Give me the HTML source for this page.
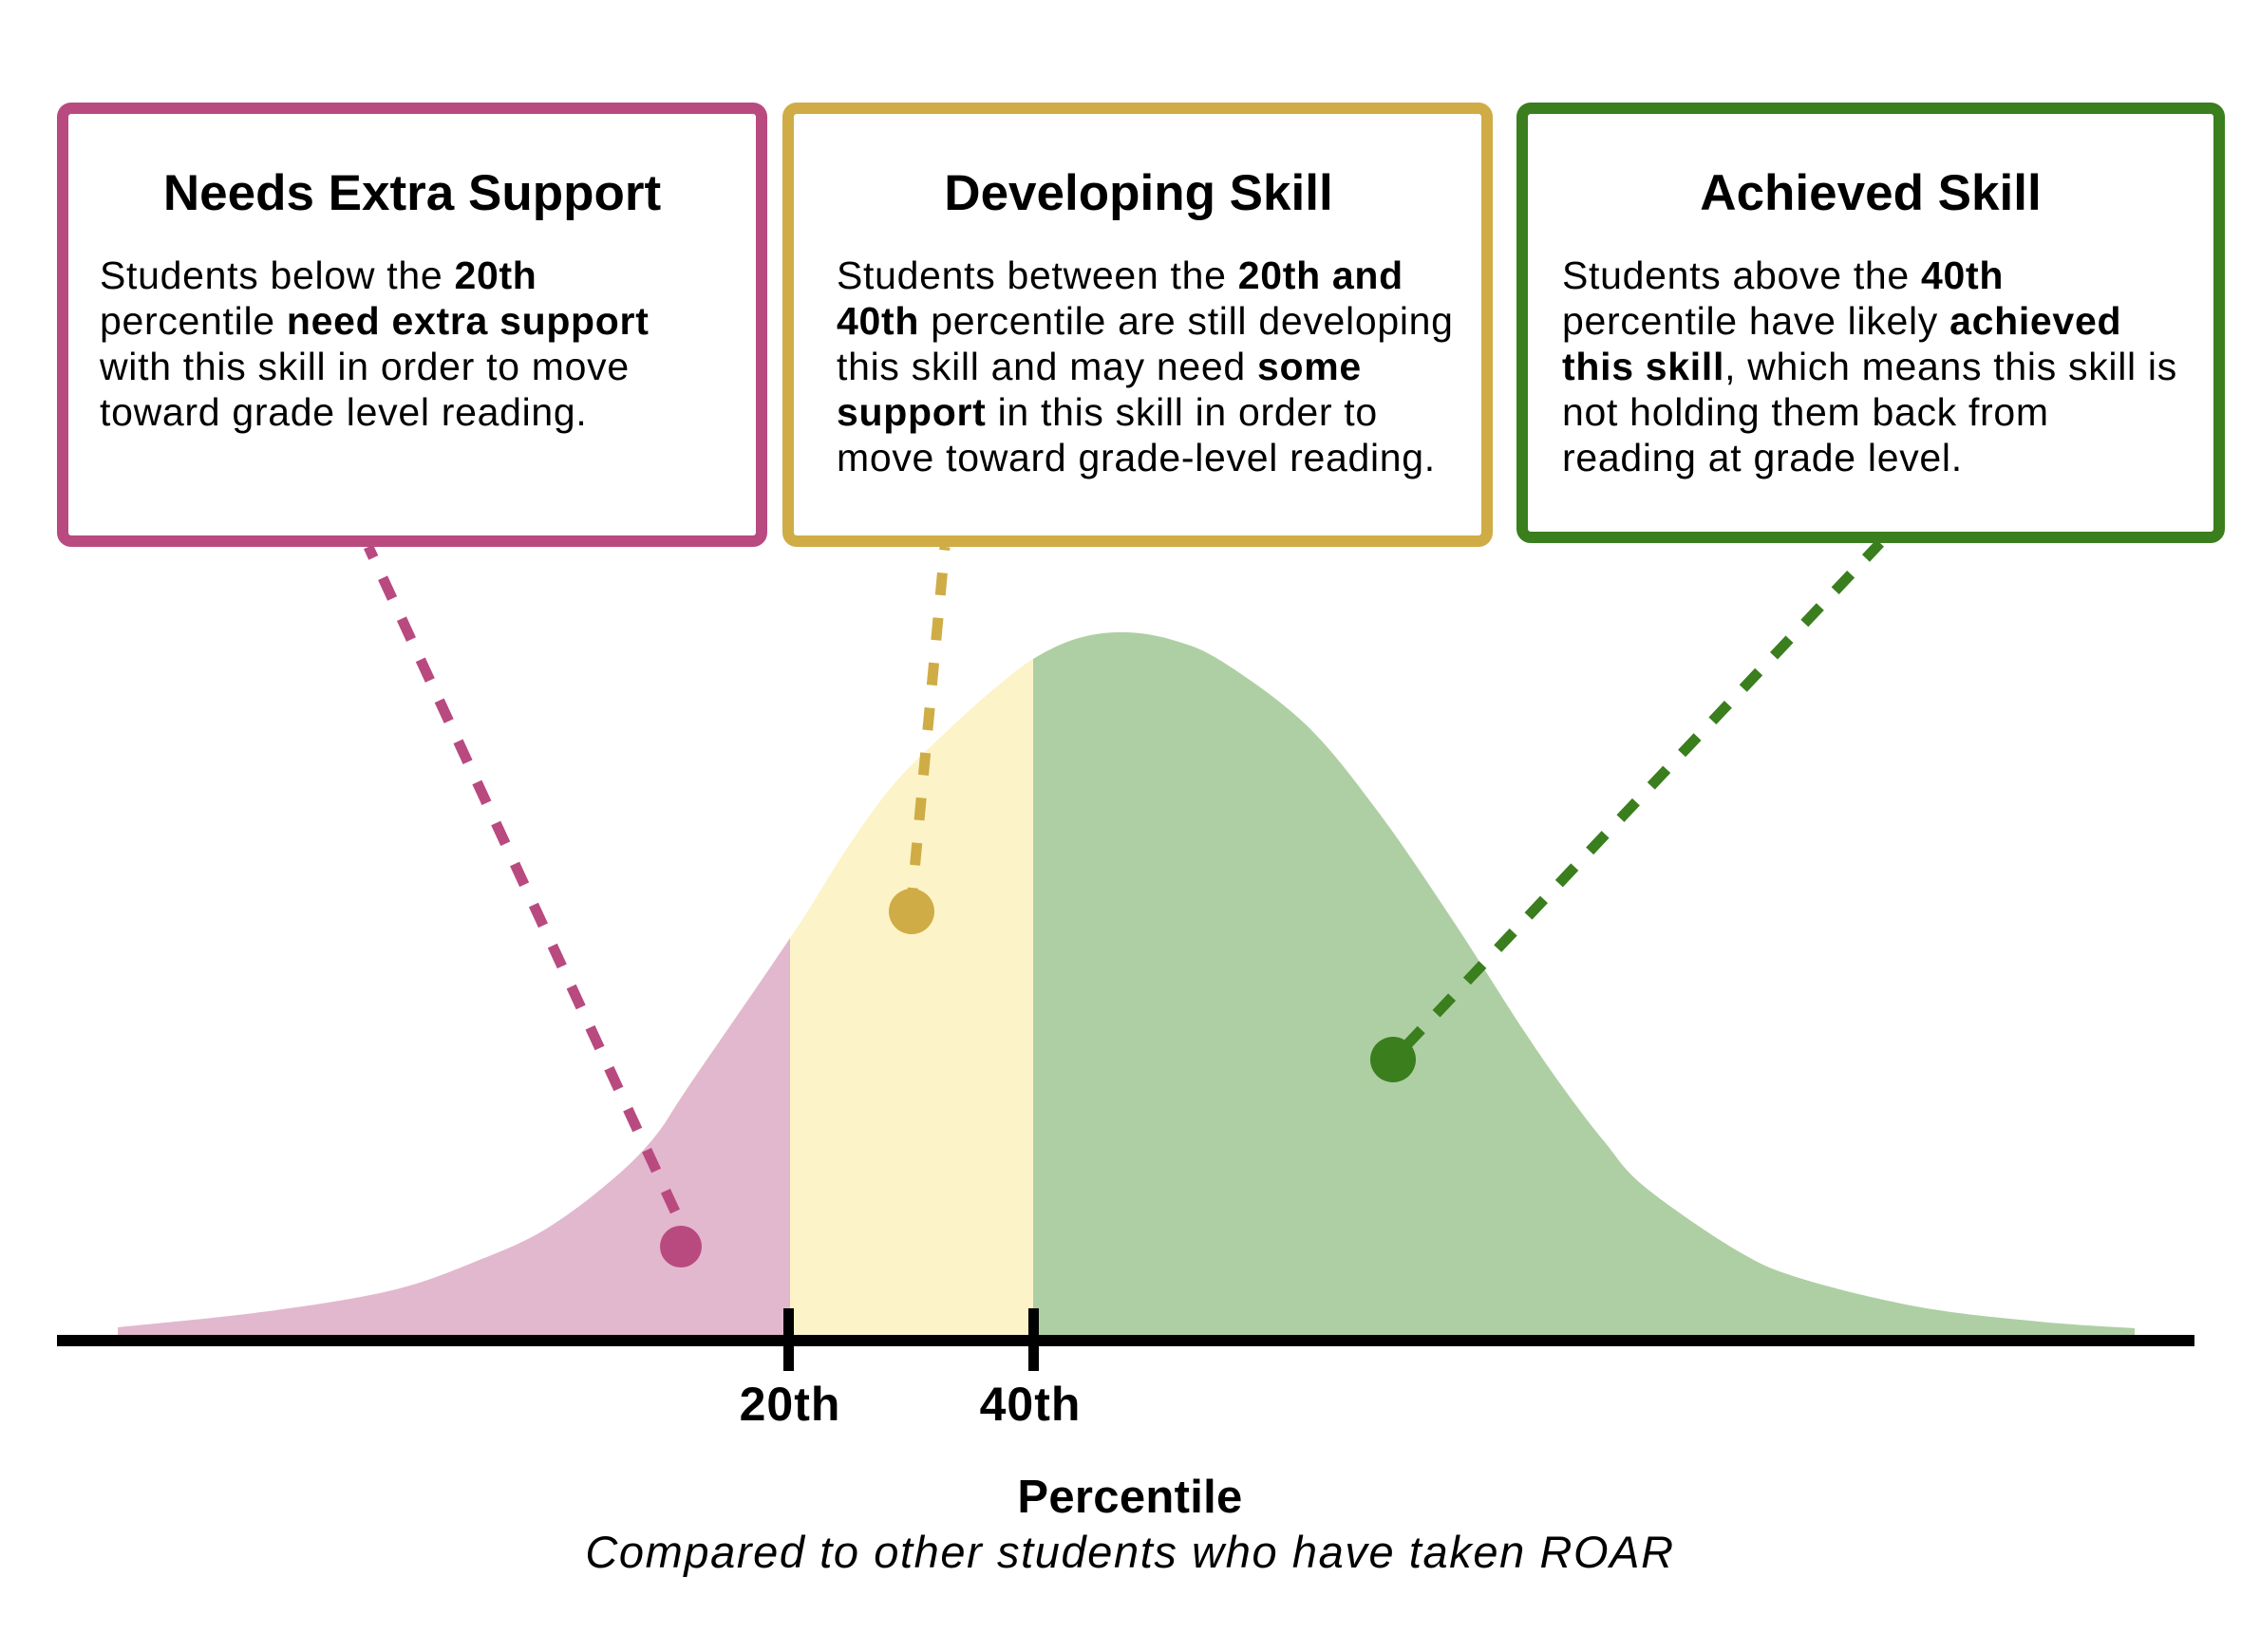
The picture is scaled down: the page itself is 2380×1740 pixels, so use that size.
<!DOCTYPE html>
<html>
<head>
<meta charset="utf-8">
<style>
  html,body{margin:0;padding:0;background:#ffffff;}
  svg{display:block;}
  text{font-family:"Liberation Sans", Arial, sans-serif; fill:#000;}
</style>
</head>
<body>
<svg width="2380" height="1740" viewBox="0 0 2380 1740" xmlns="http://www.w3.org/2000/svg">
  <defs>
    <path id="curve" d="M124,1410 L124,1398
      C149.2,1395.3 226.8,1388.5 275,1382
      C323.2,1375.5 374.7,1368.2 413,1359
      C451.3,1349.8 478.2,1337.7 505,1327
      C531.8,1316.3 551,1308.8 574,1295
      C597,1281.2 623.8,1260.2 643,1244
      C662.2,1227.8 674.8,1215.3 689,1198
      C703.2,1180.7 702.8,1177 728,1140
      C753.2,1103 812.8,1017.3 840,976
      C867.2,934.7 874,920 891,895
      C908,869.5 925,844.7 942,825
      C959,805.3 976,790.2 993,774
      C1010,757.8 1028.2,741.3 1044,728
      C1059.8,714.7 1072.7,703.3 1088,694
      C1103.3,684.7 1119.5,676.7 1136,672
      C1152.5,667.3 1170,665.5 1187,666
      C1204,666.5 1221,669.7 1238,675
      C1255,680.3 1266,683.2 1289,698
      C1312,712.8 1348.8,737.7 1376,764
      C1403.2,790.3 1426.5,822 1452,856
      C1477.5,890 1503.8,930.2 1529,968
      C1554.2,1005.8 1582.8,1052.5 1603,1083
      C1623.2,1113.5 1635.5,1131 1650,1151
      C1664.5,1171 1676.3,1186.5 1690,1203
      C1703.7,1219.5 1708.8,1231 1732,1250
      C1755.2,1269 1801.3,1300.8 1829,1317
      C1856.7,1333.2 1865.7,1337 1898,1347
      C1930.3,1357 1981.5,1369.5 2023,1377
      C2064.5,1384.5 2109.5,1388.3 2147,1392
      C2184.5,1395.7 2231.2,1397.8 2248,1399
      L2248,1410 Z"/>
    <clipPath id="cPink"><rect x="0" y="0" width="832" height="1740"/></clipPath>
    <clipPath id="cYellow"><rect x="832" y="0" width="256" height="1740"/></clipPath>
    <clipPath id="cGreen"><rect x="1088" y="0" width="1300" height="1740"/></clipPath>
  </defs>

  <!-- distribution fills -->
  <use href="#curve" fill="#E2B8CE" clip-path="url(#cPink)"/>
  <use href="#curve" fill="#FCF4C8" clip-path="url(#cYellow)"/>
  <use href="#curve" fill="#AECFA4" clip-path="url(#cGreen)"/>

  <!-- axis -->
  <rect x="60" y="1406" width="2251" height="12" fill="#000"/>
  <rect x="825" y="1378" width="11" height="66" fill="#000"/>
  <rect x="1083" y="1378" width="11" height="66" fill="#000"/>

  <!-- dashed connectors -->
  <line x1="388" y1="576" x2="722" y2="1300" stroke="#B94A80" stroke-width="11" stroke-dasharray="24 23.4" stroke-dashoffset="11.4"/>
  <line x1="995" y1="576" x2="959" y2="960" stroke="#CFAC45" stroke-width="11" stroke-dasharray="23.6 24" stroke-dashoffset="20.1"/>
  <line x1="1980" y1="572" x2="1467" y2="1116" stroke="#3A7E1E" stroke-width="11" stroke-dasharray="24 23.1" stroke-dashoffset="2.1"/>

  <!-- dots -->
  <circle cx="717" cy="1313" r="22" fill="#B94A80"/>
  <circle cx="960" cy="960" r="24" fill="#CFAC45"/>
  <circle cx="1467" cy="1116" r="24" fill="#3A7E1E"/>

  <!-- boxes -->
  <rect x="66" y="114" width="736" height="456" rx="9" ry="9" fill="#fff" stroke="#B94A80" stroke-width="12"/>
  <rect x="830" y="114" width="736" height="456" rx="9" ry="9" fill="#fff" stroke="#CFAC45" stroke-width="12"/>
  <rect x="1603" y="114" width="734" height="452" rx="9" ry="9" fill="#fff" stroke="#3A7E1E" stroke-width="12"/>

  <!-- titles -->
  <text x="434" y="221" font-size="53" font-weight="bold" text-anchor="middle">Needs Extra Support</text>
  <text x="1199" y="221" font-size="53" font-weight="bold" text-anchor="middle">Developing Skill</text>
  <text x="1970" y="221" font-size="53" font-weight="bold" text-anchor="middle">Achieved Skill</text>

  <!-- box 1 body -->
  <g font-size="41" letter-spacing="0.7">
    <text x="105" y="304">Students below the <tspan font-weight="bold">20th</tspan></text>
    <text x="105" y="352">percentile <tspan font-weight="bold">need extra support</tspan></text>
    <text x="105" y="400">with this skill in order to move</text>
    <text x="105" y="448">toward grade level reading.</text>
  </g>

  <!-- box 2 body -->
  <g font-size="41" letter-spacing="0.7">
    <text x="881" y="304">Students between the <tspan font-weight="bold">20th and</tspan></text>
    <text x="881" y="352"><tspan font-weight="bold">40th</tspan> percentile are still developing</text>
    <text x="881" y="400">this skill and may need <tspan font-weight="bold">some</tspan></text>
    <text x="881" y="448"><tspan font-weight="bold">support</tspan> in this skill in order to</text>
    <text x="881" y="496">move toward grade-level reading.</text>
  </g>

  <!-- box 3 body -->
  <g font-size="41" letter-spacing="0.7">
    <text x="1645" y="304">Students above the <tspan font-weight="bold">40th</tspan></text>
    <text x="1645" y="352">percentile have likely <tspan font-weight="bold">achieved</tspan></text>
    <text x="1645" y="400"><tspan font-weight="bold">this skill</tspan>, which means this skill is</text>
    <text x="1645" y="448">not holding them back from</text>
    <text x="1645" y="496">reading at grade level.</text>
  </g>

  <!-- axis labels -->
  <text x="832" y="1496" font-size="50" font-weight="bold" letter-spacing="1" text-anchor="middle">20th</text>
  <text x="1085" y="1496" font-size="50" font-weight="bold" letter-spacing="1" text-anchor="middle">40th</text>
  <text x="1190" y="1593" font-size="49" font-weight="bold" letter-spacing="0.3" text-anchor="middle">Percentile</text>
  <text x="1190" y="1651" font-size="47" font-style="italic" letter-spacing="1.6" text-anchor="middle">Compared to other students who have taken ROAR</text>
</svg>
</body>
</html>
